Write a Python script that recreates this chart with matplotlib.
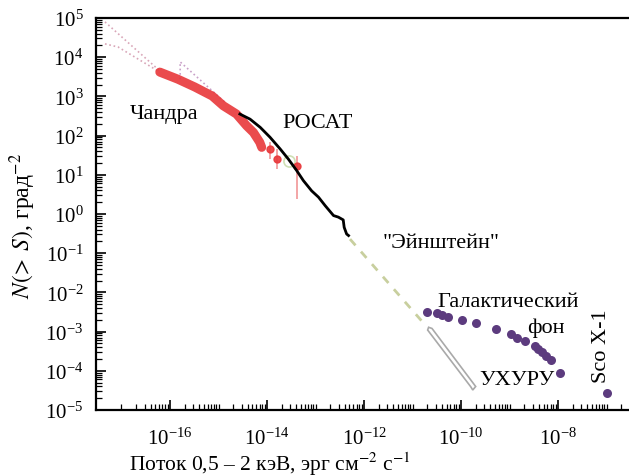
import numpy as np
import matplotlib
matplotlib.use("Agg")
import matplotlib.pyplot as plt
from matplotlib.ticker import LogLocator, LogFormatterMathtext, NullFormatter

plt.rcParams['font.family'] = ['Liberation Serif', 'DejaVu Serif']
plt.rcParams['mathtext.fontset'] = 'stix'

# values, log10 units
chandra_logs = [-16.21, -15.84, -15.49, -15.13, -14.90, -14.63, -14.42, -14.28, -14.15, -14.11]
chandra_logn = [3.62, 3.44, 3.24, 3.01, 2.76, 2.55, 2.25, 2.08, 1.83, 1.70]

chandra_err_logs = [-13.94, -13.80, -13.39]
chandra_err_logn = [1.66, 1.40, 1.23]
chandra_err_lo = [1.40, 1.15, 0.38]
chandra_err_hi = [1.84, 1.66, 1.49]

rosat_logs = [-14.56, -14.35, -14.14, -13.94, -13.73, -13.56, -13.39, -13.25, -13.08,
              -12.94, -12.80, -12.63, -12.53, -12.43, -12.41, -12.36, -12.32]
rosat_logn = [2.55, 2.42, 2.21, 1.96, 1.66, 1.40, 1.11, 0.85, 0.59,
              0.43, 0.21, -0.04, -0.08, -0.15, -0.34, -0.51, -0.55]

einstein_pt_logs = [-13.55]
einstein_pt_logn = [1.36]

einstein_logs = [-12.29, -10.72]
einstein_logn = [-0.64, -2.86]

uhuru_logs = [-10.67, -10.60, -9.70, -9.76, -9.80, -10.69]
uhuru_logn = [-2.89, -2.92, -4.40, -4.49, -4.41, -2.96]

gal_logs = [-10.70, -10.50, -10.40, -10.27, -9.99, -9.69, -9.28, -8.98, -8.84, -8.68,
            -8.47, -8.41, -8.34, -8.25, -8.14, -7.97]
gal_logn = [-2.49, -2.53, -2.58, -2.62, -2.70, -2.79, -2.93, -3.07, -3.16, -3.25,
            -3.36, -3.44, -3.53, -3.63, -3.72, -4.06]

sco_logs = [-7.00]
sco_logn = [-4.57]

# faint extrapolations (dotted)
fit1_logs = [-17.34, -16.21]
fit1_logn = [4.90, 3.65]
fit2_logs = [-17.34, -17.07, -16.21]
fit2_logn = [4.34, 4.26, 3.62]
fit3_logs = [-15.79, -15.79, -14.85]
fit3_logn = [3.44, 3.88, 2.83]

def p(v):
    return 10 ** np.array(v, dtype=float)

fig = plt.figure(figsize=(6.29, 4.77), dpi=100)
ax = fig.add_axes([96 / 629, 1 - 411 / 477, 533 / 629, 392 / 477])

ax.plot(p(fit1_logs), p(fit1_logn), ls=':', color='#d9a6b8', lw=1.2)
ax.plot(p(fit2_logs), p(fit2_logn), ls=':', color='#d9a6b8', lw=1.2)
ax.plot(p(fit3_logs), p(fit3_logn), ls=':', color='#c9a0c8', lw=1.2)

ax.plot(p(chandra_logs), p(chandra_logn), color='#e8373a', lw=6.5, alpha=0.9,
        solid_capstyle='round', zorder=3)
y = p(chandra_err_logn)
ax.errorbar(p(chandra_err_logs), y,
            yerr=[y - p(chandra_err_lo), p(chandra_err_hi) - y],
            fmt='o', color='#e8373a', ms=5, ecolor='#f08a8c', elinewidth=1.2,
            alpha=0.9, zorder=3)

ax.plot(p(einstein_pt_logs), p(einstein_pt_logn), 'o', mfc='none', mec='#cfe0b4',
        ms=8, mew=1.2, zorder=2)
ax.plot(p(rosat_logs), p(rosat_logn), color='black', lw=2, zorder=4)

ax.plot(p(einstein_logs), p(einstein_logn), color='#c8cf9e', lw=2, ls=(0, (3, 3)))

ax.fill(p(uhuru_logs), p(uhuru_logn), facecolor='white', edgecolor='#a9a9a9', lw=1.2)

ax.plot(p(gal_logs), p(gal_logn), 'o', color='#5c3b7e', ms=6.5, mec='none')
ax.plot(p(sco_logs), p(sco_logn), 'o', color='#5c3b7e', ms=6.5, mec='none')

ax.set_xscale('log')
ax.set_yscale('log')
ax.set_xlim(10 ** -17.525, 10 ** -6.54)
ax.set_ylim(1e-5, 1e5)

ax.yaxis.set_major_locator(LogLocator(base=10, numticks=20))
ax.yaxis.set_minor_locator(LogLocator(base=10, subs=np.arange(2, 10), numticks=20))
ax.yaxis.set_minor_formatter(NullFormatter())
ax.set_xticks([1e-16, 1e-14, 1e-12, 1e-10, 1e-8])
ax.xaxis.set_major_formatter(LogFormatterMathtext())
# every decade gets a long tick, odd ones unlabeled
dec = [10.0 ** k for k in range(-17, -6)]
sub = [m * d for d in dec[:-1] for m in range(2, 10)] + [2e-7]
ax.set_xticks(sub + [d for d in dec if d not in (1e-16, 1e-14, 1e-12, 1e-10, 1e-8)], minor=True)
ax.xaxis.set_minor_formatter(NullFormatter())

ax.tick_params(which='both', direction='in', top=False, right=False, labelsize=15)
ax.tick_params(which='major', length=7, width=1.2)
ax.tick_params(which='minor', length=4, width=0.9)
ax.tick_params(axis='y', pad=9)
ax.tick_params(axis='x', pad=13)

for s in ['left', 'bottom', 'top']:
    ax.spines[s].set_linewidth(1.6)
ax.spines['right'].set_visible(False)

ax.set_xlabel('Поток 0,5 – 2 кэВ, эрг см$^{-2}$ с$^{-1}$', fontsize=15.5)
ax.xaxis.set_label_coords(0.326, -0.1)
ax.set_ylabel(r'$N(\!>\;S)$, град$^{-2}$', fontsize=17)
ax.yaxis.set_label_coords(-0.108, 0.472)

fs = 16
ax.text(10 ** -16.82, 10 ** 2.45, 'Чандра', fontsize=fs)
ax.text(10 ** -13.69, 10 ** 2.22, 'РОСАТ', fontsize=fs)
ax.text(10 ** -11.61, 10 ** -0.84, '"Эйнштейн"', fontsize=fs)
ax.text(10 ** -10.48, 10 ** -2.35, 'Галактический', fontsize=fs)
ax.text(10 ** -8.64, 10 ** -3.01, 'фон', fontsize=fs)
ax.text(10 ** -9.63, 10 ** -4.34, 'УХУРУ', fontsize=fs)
ax.text(10 ** -7.10, 10 ** -4.29, 'Sco X-1', fontsize=fs, rotation=90,
        ha='center', va='bottom')

fig.savefig('out.png', dpi=100)
